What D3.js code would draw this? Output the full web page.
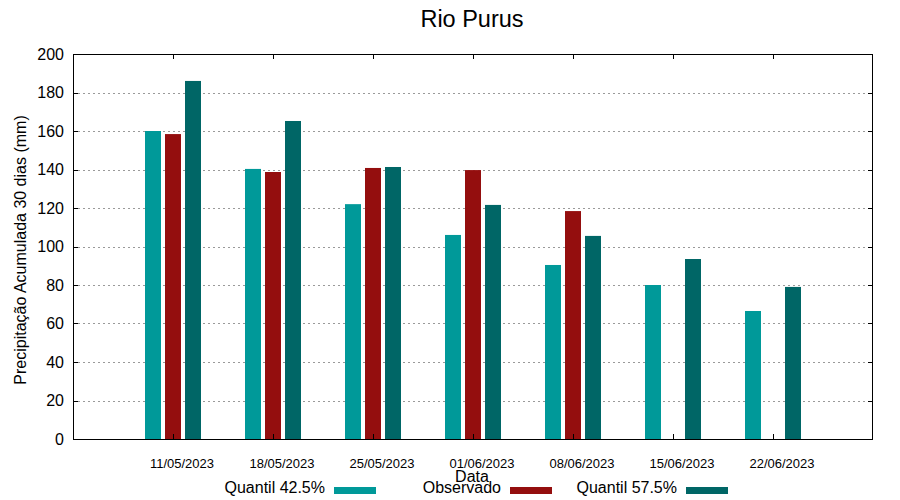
<!DOCTYPE html>
<html>
<head>
<meta charset="utf-8">
<script src="https://d3js.org/d3.v7.min.js"></script>
<style>
body{margin:0;background:#fff;}
svg{display:block;font-family:"Liberation Sans",Arial,sans-serif;}
</style>
</head>
<body>
<svg id="chart" width="900" height="500"></svg>
<script>
const categories = ["11/05/2023","18/05/2023","25/05/2023","01/06/2023","08/06/2023","15/06/2023","22/06/2023"];
const seriesNames = ["Quantil 42.5%","Observado","Quantil 57.5%"];
const q425 = [160, 140.3, 122, 106, 90.4, 80, 66.5];
const observado = [158.4, 138.7, 140.8, 139.7, 118.4, null, null];
const q575 = [186, 165.2, 141.3, 121.6, 105.5, 93.5, 79];
const yTicks = [0,20,40,60,80,100,120,140,160,180,200];
const colors = ["#009999","#940e0e","#006666"];
const title = "Rio Purus";
const yLabel = "Precipitação Acumulada 30 dias (mm)";
const xLabel = "Data";

const series = [q425, observado, q575];
const svg = d3.select("#chart");
const L = 73, R = 873, T = 54, B = 439;

const x = d3.scaleLinear().domain([-1, categories.length]).range([L, R]);
const sub = d3.scaleBand().domain(d3.range(seriesNames.length)).range([-28, 28]).paddingInner(0.2).paddingOuter(0);
const y = d3.scaleLinear().domain([0, 200]).range([B, T]);

// grid
svg.append("g").selectAll("line").data(yTicks.filter(t => t > 0 && t < 200)).join("line")
  .attr("x1", L).attr("x2", R)
  .attr("y1", d => Math.round(y(d)) + 0.5).attr("y2", d => Math.round(y(d)) + 0.5)
  .attr("stroke", "#9a9a9a").attr("stroke-width", 1).attr("stroke-dasharray", "2,3");

// bars
series.forEach((vals, si) => {
  svg.append("g").selectAll("rect").data(vals.map((v, i) => ({v, i})).filter(d => d.v != null)).join("rect")
    .attr("x", d => x(d.i) + sub(si))
    .attr("width", sub.bandwidth())
    .attr("y", d => y(d.v))
    .attr("height", d => y(0) - y(d.v))
    .attr("fill", colors[si]);
});

// y ticks left & right
const yt = svg.append("g");
yTicks.forEach(t => {
  const yy = Math.round(y(t)) + 0.5;
  yt.append("line").attr("x1", L).attr("x2", L + 5).attr("y1", yy).attr("y2", yy).attr("stroke", "#000");
  yt.append("line").attr("x1", R - 5).attr("x2", R).attr("y1", yy).attr("y2", yy).attr("stroke", "#000");
  yt.append("text").attr("x", L - 9).attr("y", y(t)).attr("dy", "0.36em")
    .attr("text-anchor", "end").attr("font-size", 16).attr("fill", "#000").text(t);
});

// x ticks top & bottom
const xt = svg.append("g");
categories.forEach((c, i) => {
  const xx = Math.round(x(i)) + 0.5;
  xt.append("line").attr("x1", xx).attr("x2", xx).attr("y1", B).attr("y2", B - 5).attr("stroke", "#000");
  xt.append("line").attr("x1", xx).attr("x2", xx).attr("y1", T).attr("y2", T + 5).attr("stroke", "#000");
  xt.append("text").attr("x", x(i) + 9).attr("y", 468).attr("text-anchor", "middle")
    .attr("font-size", 13).attr("fill", "#000").text(c);
});

// frame
svg.append("rect").attr("x", L + 0.5).attr("y", T + 0.5).attr("width", R - L - 1).attr("height", B - T)
  .attr("fill", "none").attr("stroke", "#000").attr("stroke-width", 1);

// title
svg.append("text").attr("x", 472).attr("y", 27).attr("text-anchor", "middle")
  .attr("font-size", 23.5).attr("fill", "#000").text(title);

// y label
svg.append("text").attr("transform", "translate(26,250) rotate(-90)").attr("text-anchor", "middle")
  .attr("font-size", 16).attr("fill", "#000").text(yLabel);

// x label
svg.append("text").attr("x", 472).attr("y", 482).attr("text-anchor", "middle")
  .attr("font-size", 16).attr("fill", "#000").text(xLabel);

// legend
seriesNames.forEach((n, i) => {
  const sx = 334 + i * 176;
  svg.append("text").attr("x", sx - 9).attr("y", 493).attr("text-anchor", "end")
    .attr("font-size", 16).attr("fill", "#000").text(n);
  svg.append("rect").attr("x", sx).attr("y", 487).attr("width", 42).attr("height", 7).attr("fill", colors[i]);
});
</script>
</body>
</html>
